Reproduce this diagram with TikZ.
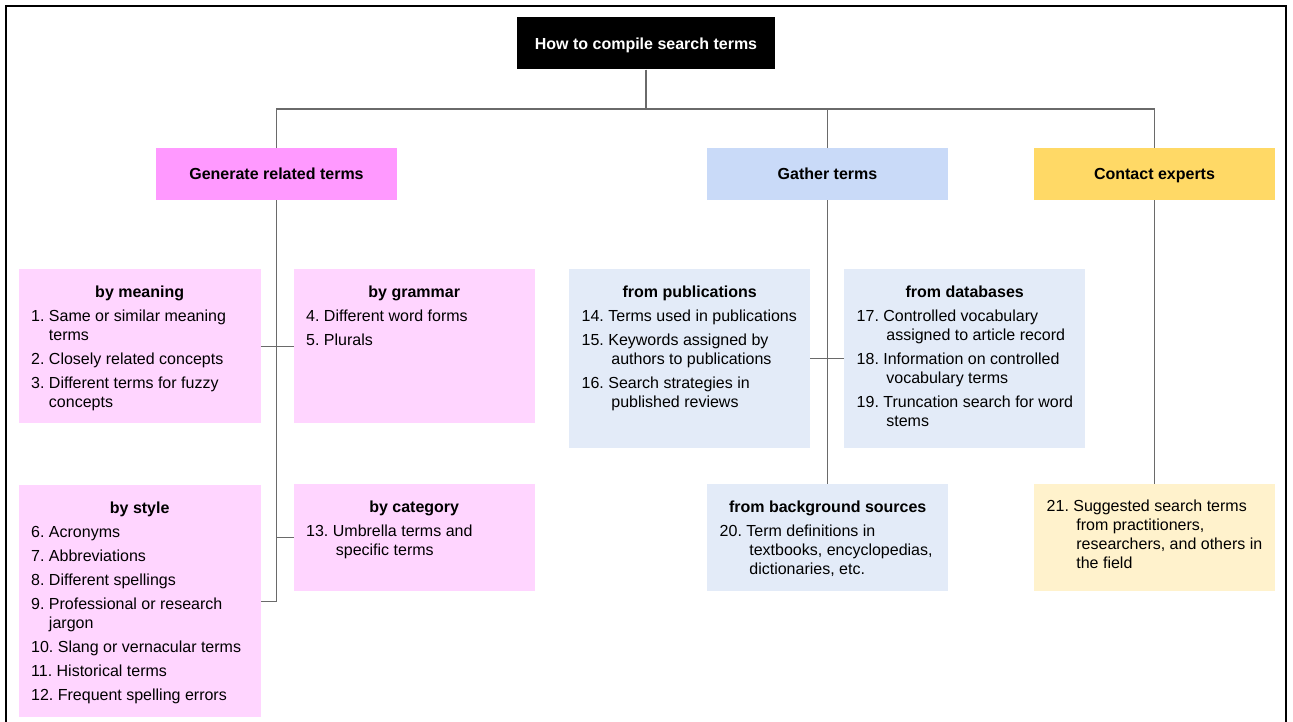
\documentclass[tikz,border=0pt]{standalone}
\usepackage{fontspec}
\setmainfont{Liberation Sans}
\usetikzlibrary{calc}

\definecolor{pinkA}{HTML}{FF99FF}
\definecolor{pinkB}{HTML}{FFD5FF}
\definecolor{blueA}{HTML}{C9DAF8}
\definecolor{blueB}{HTML}{E3EBF8}
\definecolor{yellowA}{HTML}{FFD966}
\definecolor{yellowB}{HTML}{FFF2CC}
\definecolor{linegray}{HTML}{6A6A6A}

% numbered entry with a hanging indent under its text
\newlength\numw
\newcommand\entry[3][0pt]{\par\settowidth{\numw}{#2\ }%
  \hangindent=\dimexpr\numw+#1\relax\hangafter=1 #2\ #3}
% bold centred heading of a box; its strut fixes the first baseline
\newcommand\boxhead[1]{{\centering\bfseries\rule{0pt}{28pt}#1\par}}
% body of a box: width, height, content
\newcommand\boxbody[3]{\parbox[t][#2][t]{#1}{%
  \fontsize{16pt}{19pt}\selectfont\parskip=5pt\parindent=0pt
  \leftskip=12.5pt\rightskip=0pt plus 1fil\relax #3}}

\tikzset{
  headbox/.style={rectangle, inner sep=0pt, font=\fontsize{16pt}{19pt}\selectfont\bfseries,
    text height=12pt, text depth=0pt, minimum height=52pt},
  listbox/.style={rectangle, inner sep=0pt, anchor=north west},
  conn/.style={draw=linegray, line width=1.3pt},
}

\begin{document}
\begin{tikzpicture}[x=1pt,y=-1pt]
\useasboundingbox (0,0) rectangle (1293,722);
\fill[white] (0,0) rectangle (1293,722);

% outer frame, running off the lower edge
\draw[line width=2pt] (6,730) -- (6,6) -- (1285.5,6) -- (1285.5,730);

% root and first level
\node[headbox, fill=black, text=white, minimum width=258pt] (root) at (646,43.5) {How to compile search terms};
\node[headbox, fill=pinkA, minimum width=241pt] (gen) at (276.5,174) {Generate related terms};
\node[headbox, fill=blueA, minimum width=241pt] (gath) at (827.5,174) {Gather terms};
\node[headbox, fill=yellowA, minimum width=241pt] (cont) at (1154.5,174) {Contact experts};

% related terms
\node[listbox, fill=pinkB] (mean) at (18.5,269) {\boxbody{242pt}{154pt}{%
  \boxhead{by meaning}
  \entry{1.}{Same or similar meaning\\terms}
  \entry{2.}{Closely related concepts}
  \entry{3.}{Different terms for fuzzy\\concepts}}};
\node[listbox, fill=pinkB] (gram) at (293.5,269) {\boxbody{241pt}{154pt}{%
  \boxhead{by grammar}
  \entry{4.}{Different word forms}
  \entry{5.}{Plurals}}};
\node[listbox, fill=pinkB] (style) at (18.5,485) {\boxbody{242pt}{232pt}{%
  \boxhead{by style}
  \entry{6.}{Acronyms}
  \entry{7.}{Abbreviations}
  \entry{8.}{Different spellings}
  \entry{9.}{Professional or research\\jargon}
  \entry[3pt]{10.}{Slang or vernacular terms}
  \entry[3pt]{11.}{Historical terms}
  \entry[3pt]{12.}{Frequent spelling errors}}};
\node[listbox, fill=pinkB] (cat) at (293.5,484) {\boxbody{241pt}{107pt}{%
  \boxhead{by category}
  \entry[3pt]{13.}{Umbrella terms and\\specific terms}}};

% gathered terms
\node[listbox, fill=blueB] (pub) at (569,269) {\boxbody{241pt}{179pt}{%
  \boxhead{from publications}
  \entry[3pt]{14.}{Terms used in publications}
  \entry[3pt]{15.}{Keywords assigned by\\authors to publications}
  \entry[3pt]{16.}{Search strategies in\\published reviews}}};
\node[listbox, fill=blueB] (db) at (844,269) {\boxbody{241pt}{179pt}{%
  \boxhead{from databases}
  \entry[3pt]{17.}{Controlled vocabulary\\assigned to article record}
  \entry[3pt]{18.}{Information on controlled\\vocabulary terms}
  \entry[3pt]{19.}{Truncation search for word\\stems}}};
\node[listbox, fill=blueB] (bg) at (707,484) {\boxbody{241pt}{107pt}{%
  \boxhead{from background sources}
  \entry[3pt]{20.}{Term definitions in\\textbooks, encyclopedias,\\dictionaries, etc.}}};

% expert suggestions
\node[listbox, fill=yellowB] (sugg) at (1034,484) {\boxbody{241pt}{107pt}{%
  \entry[3pt]{21.}{\rule{0pt}{27pt}Suggested search terms\\from practitioners,\\researchers, and others in\\the field}}};

% connectors
\coordinate (bus) at (0,109);
\draw[conn] (root.south) -- (root.south |- bus);
\draw[conn] (gen.north) -- (gen.north |- bus) -- (cont.north |- bus) -- (cont.north);
\draw[conn] (gath.north) -- (gath.north |- bus);

\draw[conn] (gen.south) |- (style.east);
\draw[conn] (mean.east) -- (gram.west);
\draw[conn] (gen.south |- cat.west) -- (cat.west);

\draw[conn] (gath.south) -- (gath.south |- bg.north);
\draw[conn] (pub.east) -- (db.west);

\draw[conn] (cont.south) -- (cont.south |- sugg.north);
\end{tikzpicture}
\end{document}
